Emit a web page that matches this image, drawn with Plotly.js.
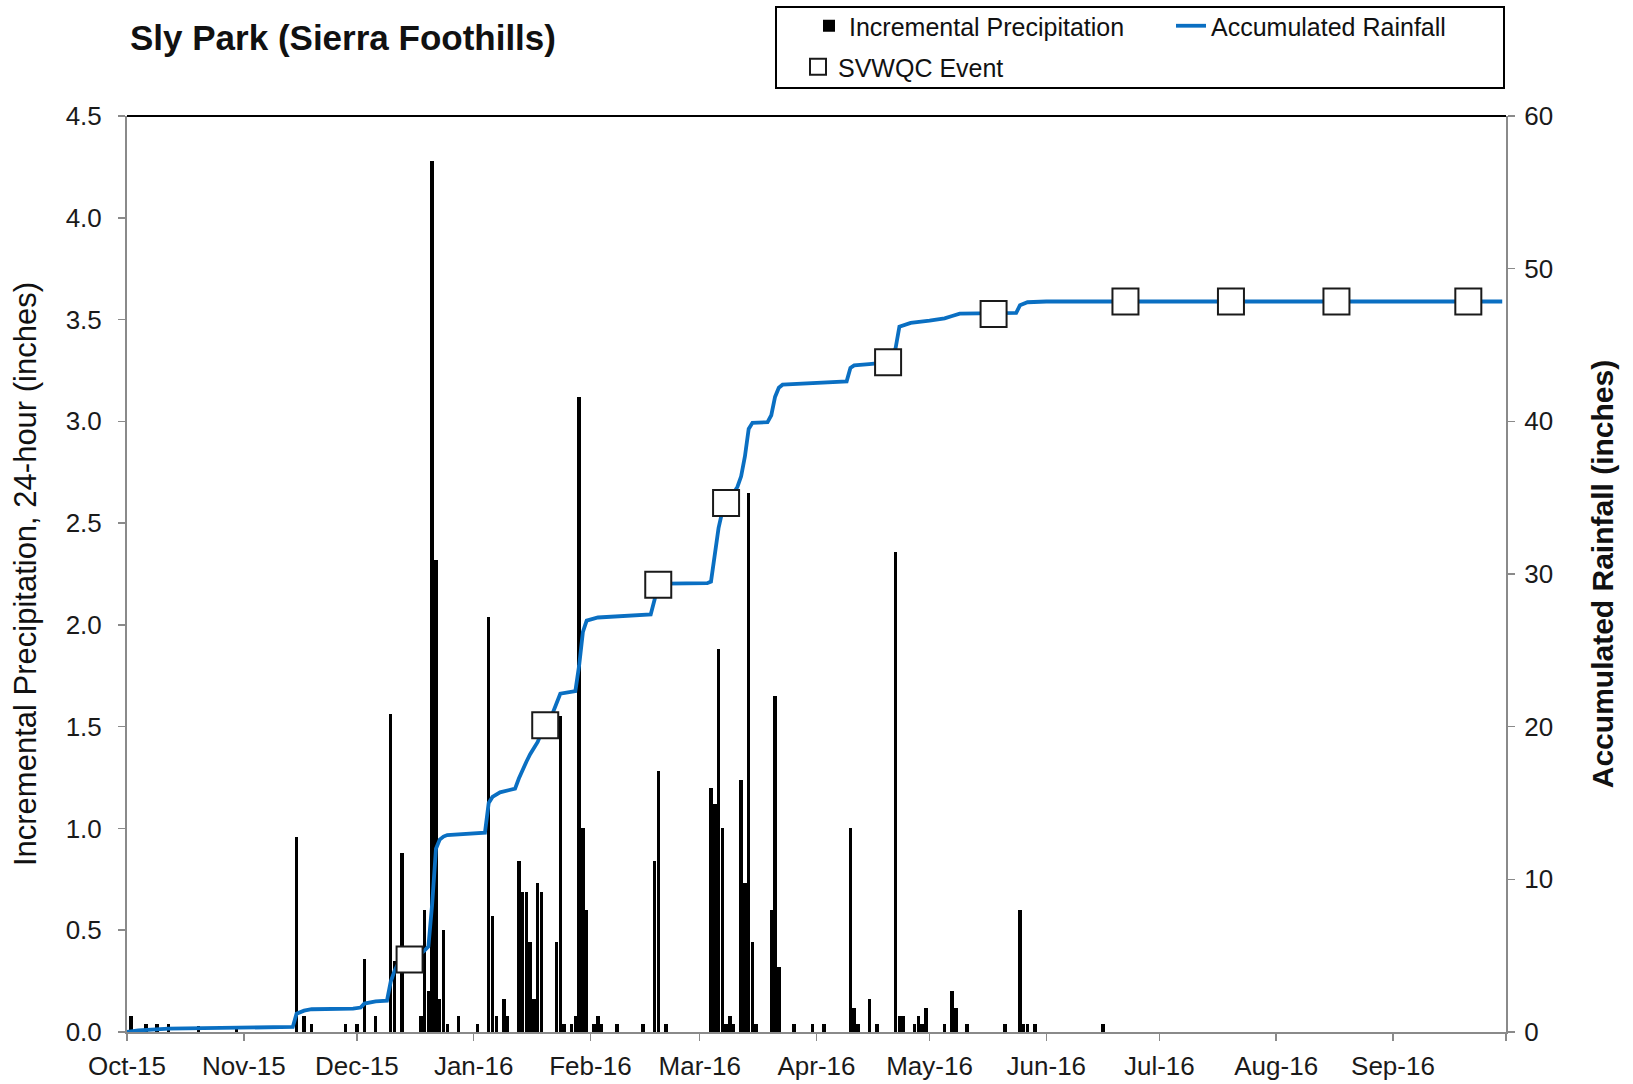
<!DOCTYPE html>
<html><head><meta charset="utf-8">
<script src="https://cdn.plot.ly/plotly-3.0.1.min.js"></script>
<style>html,body{margin:0;padding:0;background:#fff}#chart{width:1633px;height:1084px}</style>
</head><body><div id="chart"></div>
<script>
// Incremental daily precipitation (inches, 24-hour)
const precipDates = [
 '2015-10-02','2015-10-06','2015-10-09','2015-10-12','2015-10-20','2015-10-30',
 '2015-11-15','2015-11-17','2015-11-19','2015-11-28',
 '2015-12-01','2015-12-03','2015-12-06','2015-12-10','2015-12-11','2015-12-13','2015-12-18',
 '2015-12-19','2015-12-20','2015-12-21','2015-12-22','2015-12-23','2015-12-24','2015-12-25','2015-12-28',
 '2016-01-02','2016-01-05','2016-01-06','2016-01-07','2016-01-09','2016-01-10',
 '2016-01-13','2016-01-14','2016-01-15','2016-01-16','2016-01-17','2016-01-18','2016-01-19',
 '2016-01-23','2016-01-24','2016-01-25','2016-01-27','2016-01-28','2016-01-29','2016-01-30','2016-01-31',
 '2016-02-02','2016-02-03','2016-02-04','2016-02-08','2016-02-15','2016-02-18','2016-02-19','2016-02-21',
 '2016-03-04','2016-03-05','2016-03-06','2016-03-07','2016-03-08','2016-03-09','2016-03-10',
 '2016-03-12','2016-03-13','2016-03-14','2016-03-15','2016-03-16',
 '2016-03-20','2016-03-21','2016-03-22','2016-03-26','2016-03-31',
 '2016-04-03','2016-04-10','2016-04-11','2016-04-12','2016-04-15','2016-04-17',
 '2016-04-22','2016-04-23','2016-04-24','2016-04-27','2016-04-28','2016-04-29','2016-04-30',
 '2016-05-05','2016-05-07','2016-05-08','2016-05-11','2016-05-21','2016-05-25','2016-05-26','2016-05-27','2016-05-29',
 '2016-06-16'
];
const precipValues = [
 0.08,0.04,0.04,0.04,0.03,0.03,
 0.96,0.08,0.04,0.04,
 0.04,0.36,0.08,1.56,0.35,0.88,0.08,
 0.60,0.20,4.28,2.32,0.16,0.50,0.04,0.08,
 0.04,2.04,0.57,0.08,0.16,0.08,
 0.84,0.69,0.69,0.44,0.16,0.73,0.69,
 0.44,1.55,0.04,0.04,0.08,3.12,1.00,0.60,
 0.04,0.08,0.04,0.04,0.04,0.84,1.28,0.04,
 1.20,1.12,1.88,1.00,0.04,0.08,0.04,
 1.24,0.73,2.65,0.44,0.04,
 0.60,1.65,0.32,0.04,0.04,
 0.04,1.00,0.12,0.04,0.16,0.04,
 2.36,0.08,0.08,0.04,0.08,0.04,0.12,
 0.04,0.20,0.12,0.04,0.04,0.60,0.04,0.04,0.04,
 0.04
];
// Accumulated rainfall (inches)
const accumDates = [
 '2015-10-01','2015-10-04','2015-10-12','2015-10-30','2015-11-14','2015-11-15','2015-11-17','2015-11-19','2015-11-30',
 '2015-12-02','2015-12-03','2015-12-06','2015-12-09','2015-12-10','2015-12-11','2015-12-12','2015-12-15','2015-12-17',
 '2015-12-18','2015-12-19','2015-12-20','2015-12-21','2015-12-22','2015-12-23','2015-12-24','2015-12-25',
 '2016-01-04','2016-01-05','2016-01-06','2016-01-08','2016-01-10','2016-01-12','2016-01-13','2016-01-14','2016-01-15',
 '2016-01-16','2016-01-17','2016-01-18','2016-01-19','2016-01-20','2016-01-22','2016-01-23','2016-01-24','2016-01-28',
 '2016-01-29','2016-01-30','2016-01-31','2016-02-03','2016-02-15','2016-02-17','2016-02-18','2016-02-19','2016-02-21',
 '2016-03-03','2016-03-04','2016-03-05','2016-03-06','2016-03-07','2016-03-08','2016-03-10','2016-03-11','2016-03-12',
 '2016-03-13','2016-03-14','2016-03-15','2016-03-19','2016-03-20','2016-03-21','2016-03-22','2016-03-23','2016-03-31',
 '2016-04-09','2016-04-10','2016-04-11','2016-04-15','2016-04-20','2016-04-21','2016-04-22','2016-04-23','2016-04-26',
 '2016-05-01','2016-05-05','2016-05-07','2016-05-09','2016-05-24','2016-05-25','2016-05-27','2016-06-01','2016-09-30'
];
const accumValues = [
 0,0.1,0.22,0.3,0.33,1.2,1.4,1.49,1.53,
 1.6,1.86,2.0,2.05,3.3,4.0,4.5,4.75,5.0,
 5.13,5.35,5.6,8.4,12.0,12.6,12.8,12.9,
 13.06,15.0,15.4,15.7,15.85,15.94,16.6,17.2,17.7,
 18.2,18.6,19.0,19.6,20.1,20.9,21.5,22.16,22.33,
 24.0,26.2,26.95,27.15,27.3,27.35,28.3,29.3,29.37,
 29.4,29.5,31.4,33.0,34.1,34.65,35.3,35.7,36.4,
 37.7,39.5,39.9,39.95,40.4,41.6,42.2,42.4,42.5,
 42.62,43.5,43.66,43.75,43.87,44.2,44.8,46.2,46.45,
 46.6,46.75,46.9,47.05,47.1,47.6,47.8,47.85,47.85
];
// SVWQC sampling events (plotted on accumulated rainfall)
const eventDates = ['2015-12-15','2016-01-20','2016-02-19','2016-03-08','2016-04-20','2016-05-18','2016-06-22','2016-07-20','2016-08-17','2016-09-21'];
const eventValues = [4.75,20.1,29.3,34.65,43.87,47.03,47.85,47.85,47.85,47.85];
// x-axis month ticks
const monthTicks = ['2015-10-01','2015-11-01','2015-12-01','2016-01-01','2016-02-01','2016-03-01','2016-04-01','2016-05-01','2016-06-01','2016-07-01','2016-08-01','2016-09-01','2016-10-01'];
const monthLabels = ['Oct-15','Nov-15','Dec-15','Jan-16','Feb-16','Mar-16','Apr-16','May-16','Jun-16','Jul-16','Aug-16','Sep-16',''];

const FONT = 'Liberation Sans, Arial, sans-serif';
const AXIS_GRAY = '#8a8a8a';
const W = 1633, H = 1084;

const traces = [
  {type:'bar', name:'Incremental Precipitation', x:precipDates, y:precipValues,
   width:0.92*86400000, marker:{color:'#000000', line:{width:0}}, yaxis:'y', legend:'legend'},
  {type:'scatter', mode:'lines', name:'Accumulated Rainfall', x:accumDates, y:accumValues,
   line:{color:'#0a6fc2', width:3.8}, yaxis:'y2', legend:'legend'},
  {type:'scatter', mode:'markers', name:'SVWQC Event', x:eventDates, y:eventValues,
   marker:{symbol:'square', size:26, color:'#ffffff', line:{color:'#1a1a1a', width:2}}, yaxis:'y2', legend:'legend2'}
];

const layout = {
  width:W, height:H,
  margin:{l:127, r:127, t:116, b:52},
  paper_bgcolor:'#ffffff', plot_bgcolor:'#ffffff',
  font:{family:FONT, size:26, color:'#1a1a1a'},
  showlegend:true,
  bargap:0,
  title:{text:'Sly Park (Sierra Foothills)', font:{family:FONT, size:35, weight:'bold', color:'#111'},
         xref:'container', x:130/W, xanchor:'left', yref:'container', y:1-38/H, yanchor:'middle'},
  xaxis:{type:'date', range:['2015-10-01','2016-10-01'], tickvals:monthTicks, ticktext:monthLabels,
         ticks:'outside', ticklen:7, tickwidth:1.5, tickcolor:AXIS_GRAY, showline:true, linecolor:AXIS_GRAY, linewidth:2,
         showgrid:false, zeroline:false, ticklabelstandoff:3, tickfont:{size:26, color:'#1a1a1a'}},
  yaxis:{range:[0,4.5], tick0:0, dtick:0.5, tickformat:'.1f', ticks:'outside', ticklen:7, tickwidth:1.5, tickcolor:AXIS_GRAY,
         showline:true, linecolor:AXIS_GRAY, linewidth:2, showgrid:false, zeroline:false, ticklabelstandoff:11,
         tickfont:{size:26, color:'#1a1a1a'},
         title:{text:'Incremental Precipitation, 24-hour (inches)', font:{size:31, color:'#111'}, standoff:20}},
  yaxis2:{range:[0,60], tick0:0, dtick:10, overlaying:'y', side:'right', ticks:'outside', ticklen:7, tickwidth:1.5,
          tickcolor:AXIS_GRAY, showline:true, linecolor:AXIS_GRAY, linewidth:2, showgrid:false, zeroline:false,
          ticklabelstandoff:4, tickfont:{size:26, color:'#1a1a1a'},
          title:{text:'Accumulated Rainfall (inches)', font:{size:30, weight:'bold', color:'#111'}, standoff:40}},
  legend:{orientation:'h', xref:'container', yref:'container', x:809/W, y:1-3/H, xanchor:'left', yanchor:'top',
          font:{size:25, color:'#111'}, bgcolor:'rgba(0,0,0,0)', borderwidth:0, entrywidth:317, traceorder:'normal'},
  legend2:{orientation:'h', xref:'container', yref:'container', x:798/W, y:1-44/H, xanchor:'left', yanchor:'top',
          font:{size:25, color:'#111'}, bgcolor:'rgba(0,0,0,0)', borderwidth:0},
  shapes:[
    {type:'line', xref:'paper', yref:'paper', x0:0, x1:1, y0:1, y1:1, line:{color:'#000', width:2}},
    {type:'rect', xref:'paper', yref:'paper', x0:(776-127)/1379, x1:(1504-127)/1379, y0:(1032-88)/916, y1:(1032-7)/916,
     line:{color:'#000', width:2}, fillcolor:'rgba(0,0,0,0)'}
  ]
};

Plotly.newPlot('chart', traces, layout, {staticPlot:true, displayModeBar:false});
</script>
</body></html>
